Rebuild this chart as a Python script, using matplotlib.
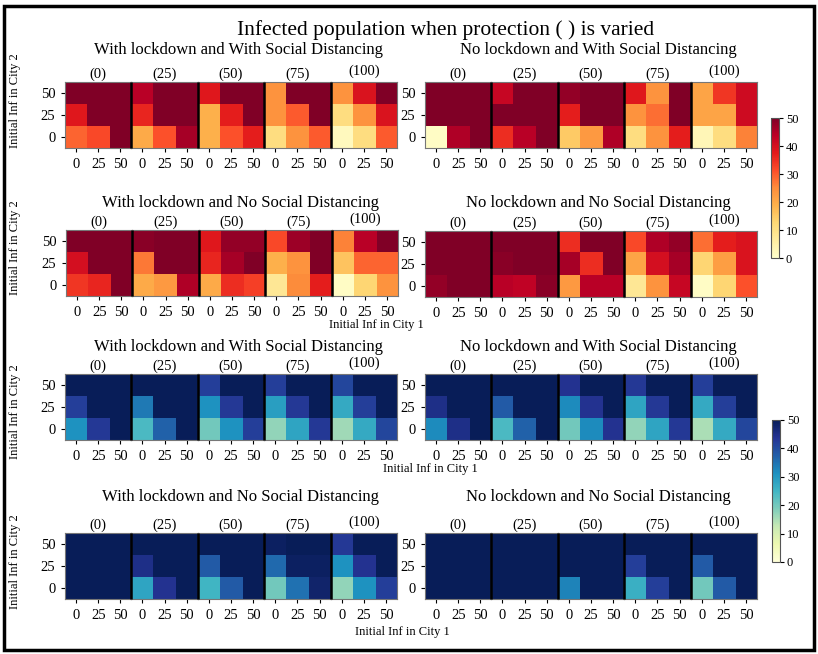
import numpy as np
import matplotlib
matplotlib.use("Agg")
import matplotlib.pyplot as plt
from matplotlib.patches import Rectangle
from matplotlib.lines import Line2D
import matplotlib as mpl

plt.rcParams['font.family'] = ['Liberation Serif', 'DejaVu Serif']

protections = ["(0)", "(25)", "(50)", "(75)", "(100)"]
tick_vals = ["0", "25", "50"]
cbar_ticks = [0, 10, 20, 30, 40, 50]

# each grid: rows = City 2 initial inf (0, 25, 50 bottom->top), cols = City 1 (0, 25, 50)
lock_sd_red = [
    [[29, 32, 50], [38, 50, 50], [50, 50, 50]],
    [[20, 31, 46], [36, 50, 50], [44, 50, 50]],
    [[19, 31, 37], [19, 37, 50], [38, 50, 50]],
    [[11, 24, 30], [24, 30, 50], [24, 50, 50]],
    [[2, 11, 30], [11, 24, 39], [24, 39, 50]],
]
nolock_sd_red = [
    [[1, 45, 50], [50, 50, 50], [50, 50, 50]],
    [[35, 44, 50], [50, 50, 50], [42, 50, 50]],
    [[15, 23, 45], [37, 50, 50], [48, 50, 50]],
    [[11, 24, 37], [24, 28, 50], [38, 24, 50]],
    [[3, 11, 26], [21, 21, 41], [21, 34, 41]],
]
lock_nosd_red = [
    [[34, 36, 50], [40, 50, 50], [50, 50, 50]],
    [[20, 23, 45], [27, 50, 50], [49, 50, 50]],
    [[20, 35, 33], [36, 46, 50], [38, 48, 48]],
    [[8, 25, 37], [19, 24, 50], [32, 47, 50]],
    [[1, 13, 24], [16, 29, 29], [26, 44, 50]],
]
nolock_nosd_red = [
    [[48, 50, 50], [50, 50, 50], [50, 50, 50]],
    [[44, 43, 49], [49, 50, 50], [50, 50, 50]],
    [[23, 44, 44], [46, 35, 50], [35, 50, 50]],
    [[8, 24, 42], [21, 40, 46], [32, 45, 48]],
    [[1, 13, 31], [13, 22, 39], [28, 37, 39]],
]
lock_sd_blue = [
    [[31, 43, 50], [42, 50, 50], [50, 50, 50]],
    [[24, 37, 50], [34, 50, 50], [50, 50, 50]],
    [[20, 31, 42], [31, 43, 50], [42, 50, 50]],
    [[17, 28, 43], [29, 43, 50], [42, 50, 50]],
    [[16, 27, 41], [27, 42, 50], [41, 50, 50]],
]
nolock_sd_blue = [
    [[32, 45, 50], [45, 50, 50], [50, 50, 50]],
    [[24, 37, 50], [38, 50, 50], [50, 50, 50]],
    [[20, 32, 44], [32, 44, 50], [44, 50, 50]],
    [[17, 28, 43], [28, 43, 50], [43, 50, 50]],
    [[15, 27, 41], [27, 42, 50], [42, 50, 50]],
]
lock_nosd_blue = [
    [[50, 50, 50], [50, 50, 50], [50, 50, 50]],
    [[28, 44, 50], [45, 50, 50], [50, 50, 50]],
    [[25, 38, 50], [38, 50, 50], [50, 50, 50]],
    [[20, 35, 48], [36, 49, 49], [49, 50, 50]],
    [[17, 31, 42], [31, 44, 50], [43, 50, 50]],
]
nolock_nosd_blue = [
    [[50, 50, 50], [50, 50, 50], [50, 50, 50]],
    [[50, 50, 50], [50, 50, 50], [50, 50, 50]],
    [[33, 50, 50], [50, 50, 50], [50, 50, 50]],
    [[26, 42, 50], [42, 50, 50], [50, 50, 50]],
    [[20, 38, 50], [38, 50, 50], [50, 50, 50]],
]

W, H = 818, 654
fig = plt.figure(figsize=(W / 100, H / 100), dpi=100)


def fx(px):
    return px / W


def fy(py):
    return 1 - py / H


panels = [
    # (data, cmap, row_top_px, left_px, title, title_x, title_y)
    (lock_sd_red, "YlOrRd", 82, 65, "With lockdown and With Social Distancing", 238, 50),
    (nolock_sd_red, "YlOrRd", 82, 425, "No lockdown and With Social Distancing", 598, 50),
    (lock_nosd_red, "YlOrRd", 230, 66, "With lockdown and No Social Distancing", 240, 203),
    (nolock_nosd_red, "YlOrRd", 231, 425, "No lockdown and No Social Distancing", 598, 203),
    (lock_sd_blue, "YlGnBu", 374, 65, "With lockdown and With Social Distancing", 238, 347),
    (nolock_sd_blue, "YlGnBu", 374, 425, "No lockdown and With Social Distancing", 598, 347),
    (lock_nosd_blue, "YlGnBu", 533, 65, "With lockdown and No Social Distancing", 240, 497),
    (nolock_nosd_blue, "YlGnBu", 533, 425, "No lockdown and No Social Distancing", 598, 497),
]

panel_w = 332
panel_h = 66
sub_w = panel_w / 5

for data, cmap, top, left, title, tx, ty in panels:
    fig.text(fx(tx), fy(ty), title, ha="center", va="center", fontsize=12)
    for k in range(5):
        l = left + k * sub_w
        ax = fig.add_axes([fx(l), fy(top + panel_h), sub_w / W, panel_h / H])
        ax.imshow(np.array(data[k], dtype=float), cmap=cmap, vmin=0, vmax=50,
                  origin="lower", aspect="auto", interpolation="nearest")
        ax.set_title(protections[k], fontsize=10.5, pad=5 if k == 4 else 3)
        ax.set_xticks([0, 1, 2])
        ax.set_xticklabels(tick_vals, fontsize=10.5)
        if k == 0:
            ax.set_yticks([0, 1, 2])
            ax.set_yticklabels(tick_vals, fontsize=10.5)
        else:
            ax.set_yticks([])
        ax.tick_params(length=3, width=0.8, pad=4)
        for s in ax.spines.values():
            s.set_color("#777777")
            s.set_linewidth(0.8)
    # black separators between the five sub-heatmaps
    for k in range(1, 5):
        xs = fx(left + k * sub_w)
        fig.lines.append(Line2D([xs, xs], [fy(top + panel_h), fy(top)],
                                transform=fig.transFigure, color="black",
                                linewidth=1.8, solid_capstyle="butt", zorder=5))

# main title
fig.text(fx(446), fy(30), "Infected population when protection ( ) is varied",
         ha="center", va="center", fontsize=15.5)

# y labels
for yc in [101, 248, 412, 562]:
    fig.text(fx(15), fy(yc), "Initial Inf in City 2", rotation=90,
             ha="center", va="center", fontsize=9)

# x labels
for xc, yc in [(376, 325), (430, 469), (402, 632)]:
    fig.text(fx(xc), fy(yc), "Initial Inf in City 1", ha="center", va="center", fontsize=9)

# colorbars
for cmap, x0, y0, y1 in [("YlOrRd", 771, 118, 258), ("YlGnBu", 772, 420, 562)]:
    cax = fig.add_axes([fx(x0), fy(y1), 8 / W, (y1 - y0) / H])
    cb = mpl.colorbar.ColorbarBase(cax, cmap=plt.get_cmap(cmap),
                                   norm=mpl.colors.Normalize(0, 50))
    cb.set_ticks(cbar_ticks)
    cb.ax.tick_params(labelsize=9, length=3, width=0.8, pad=2)
    cb.outline.set_linewidth(0.8)
    cb.outline.set_edgecolor("#555555")

# outer frame
fig.patches.append(Rectangle((fx(4), fy(650)), fx(810), (644) / H,
                             transform=fig.transFigure, fill=False,
                             edgecolor="black", linewidth=2.5))

fig.savefig("out.png", dpi=100, facecolor="white")
